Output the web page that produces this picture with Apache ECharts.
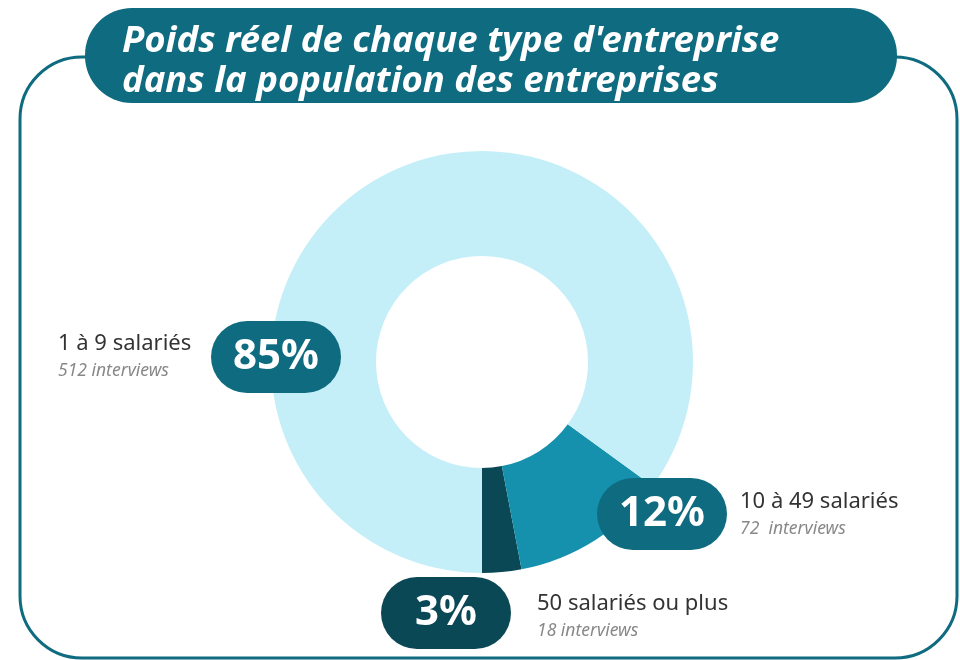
<!DOCTYPE html>
<html>
<head>
<meta charset="utf-8">
<script src="https://cdn.jsdelivr.net/npm/echarts@6/dist/echarts.min.js"></script>
<style>
  html, body { margin: 0; padding: 0; background: #fff; }
  #chart { width: 960px; height: 660px; }
</style>
</head>
<body>
<div id="chart"></div>
<script>
  // data, in drawing order (from 6 o'clock, going counter-clockwise)
  const categories = ["50 salariés ou plus", "10 à 49 salariés", "1 à 9 salariés"];
  const shares = [3, 12, 85];
  const interviews = ["18 interviews", "72  interviews", "512 interviews"];
  const titleLines = ["Poids réel de chaque type d'entreprise", "dans la population des entreprises"];

  const sliceColors = ["#0a4856", "#1591ae", "#c5eff8"];
  const pillColors = ["#0a4856", "#0f6b7f", "#0f6b7f"];
  const teal = "#0f6b7f";
  const font = "'Noto Sans', 'Open Sans', sans-serif";

  // where the pills and names sit
  const pillPos = [[446, 613], [662, 514], [276, 357]];
  const namePos = [[537, 617], [740, 515], [58, 357]];

  const chart = echarts.init(document.getElementById("chart"));

  const pieBase = {
    type: "pie",
    center: [482, 362],
    radius: [106, 211],
    startAngle: 270,
    clockwise: false,
    animation: false,
    silent: true,
    labelLine: { show: false },
  };

  const option = {
    backgroundColor: "#fff",
    title: {
      text: titleLines.join("\n"),
      left: 117,
      top: 17,
      textStyle: {
        color: "#fff",
        fontFamily: font,
        fontStyle: "italic",
        fontWeight: "bold",
        fontSize: 36.5,
        lineHeight: 40,
      },
      z: 10,
    },
    graphic: [
      {
        type: "rect",
        z: 1,
        shape: { x: 20, y: 57, width: 937, height: 601, r: 62 },
        style: { fill: "none", stroke: teal, lineWidth: 3 },
      },
      {
        type: "rect",
        z: 2,
        shape: { x: 85, y: 8, width: 812, height: 95, r: 47 },
        style: { fill: teal },
      },
    ],
    series: [
      Object.assign({}, pieBase, {
        z: 3,
        data: shares.map((v, i) => ({
          name: categories[i],
          value: v,
          itemStyle: { color: sliceColors[i] },
          label: { backgroundColor: pillColors[i] },
        })),
        label: {
          show: true,
          formatter: "{c}%",
          color: "#fff",
          fontFamily: font,
          fontWeight: "bold",
          fontSize: 42,
          width: 130,
          height: 72,
          lineHeight: 72,
          borderRadius: 36,
          align: "center",
        },
        labelLayout: (p) => ({
          x: pillPos[p.dataIndex][0],
          y: pillPos[p.dataIndex][1],
          align: "center",
          verticalAlign: "middle",
        }),
      }),
      Object.assign({}, pieBase, {
        z: 4,
        itemStyle: { color: "transparent" },
        data: shares.map((v, i) => ({ name: categories[i], value: v })),
        label: {
          show: true,
          formatter: (p) => "{n|" + p.name + "}\n{s|" + interviews[p.dataIndex] + "}",
          rich: {
            n: { fontFamily: font, fontSize: 22, color: "#333", lineHeight: 28 },
            s: { fontFamily: font, fontSize: 17.5, color: "#888", fontStyle: "italic", lineHeight: 26 },
          },
        },
        labelLayout: (p) => ({
          x: namePos[p.dataIndex][0],
          y: namePos[p.dataIndex][1],
          align: "left",
          verticalAlign: "middle",
        }),
      }),
    ],
  };

  chart.setOption(option);

  window.addEventListener("resize", () => {
    chart.resize();
  });
</script>
</body>
</html>
